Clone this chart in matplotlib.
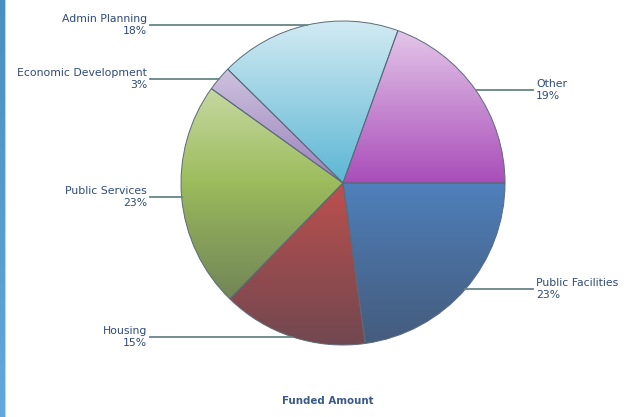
import matplotlib
matplotlib.use("Agg")
import matplotlib.pyplot as plt
from matplotlib.colors import to_rgb
from matplotlib.patches import Rectangle
import numpy as np

# slices, counter-clockwise from 3 o'clock
labels = ["Other", "Admin Planning", "Economic Development",
          "Public Services", "Housing", "Public Facilities"]
shares = [19.5, 18.1, 2.5, 22.6, 14.5, 22.8]
pct_labels = ["19%", "18%", "3%", "23%", "15%", "23%"]
colors = ["#a94db9", "#5cb6d4", "#9a82bc", "#9cbc5c", "#c0504d", "#4f81bd"]

W, H = 624, 417
cx, cy, r = 343, H - 183, 162
txt_color = "#2e4a7a"
line_color = "#668585"

fig = plt.figure(figsize=(W / 100, H / 100), dpi=100)
ax = fig.add_axes([0, 0, 1, 1])

wedges, _ = ax.pie(shares, colors=colors, startangle=0, counterclock=True,
                   center=(cx, cy), radius=r,
                   wedgeprops=dict(edgecolor="#5a6a7a", linewidth=0.7))

# vertical shading: light on top, dark at the bottom
t = np.linspace(0, 1, 300)[:, None]
for w, c in zip(wedges, colors):
    base = np.array(to_rgb(c))
    up = np.clip((0.5 - t) * 2, 0, 1) * 0.72
    down = np.clip((t - 0.5) * 2, 0, 1) ** 0.9 * 0.6
    img = base + (1 - base) * up
    img = img * (1 - down) + np.array([0.24, 0.26, 0.32]) * down
    img = np.repeat(img[:, None, :], 2, axis=1).reshape(300, 2, 3)
    im = ax.imshow(img, extent=(cx - r, cx + r, cy - r, cy + r),
                   origin="upper", aspect="auto", zorder=1.5,
                   interpolation="bilinear")
    im.set_clip_path(w)
    w.set_zorder(2)
    w.set_facecolor("none")

# leader lines and labels
acc = 0
total = sum(shares)
for lab, s, p in zip(labels, shares, pct_labels):
    mid = np.deg2rad((acc + s / 2) / total * 360)
    acc += s
    px = cx + r * np.cos(mid)
    py = cy + r * np.sin(mid)
    if np.cos(mid) >= 0:
        ax.plot([px, 533], [py, py], color=line_color, lw=1.3, zorder=3)
        ax.text(536, py, f"{lab}\n{p}", ha="left", va="center",
                fontsize=7.8, color=txt_color, linespacing=1.25)
    else:
        ax.plot([150, px], [py, py], color=line_color, lw=1.3, zorder=3)
        ax.text(147, py, f"{lab}\n{p}", ha="right", va="center",
                fontsize=7.8, color=txt_color, linespacing=1.25,
                multialignment="right")

ax.text(328, H - 401, "Funded Amount", ha="center", va="center",
        fontsize=7.4, fontweight="bold", color="#3a5a8a")

# blue bar on the left edge, darker at the top
bar = np.linspace(0, 1, 100)[:, None] * (np.array(to_rgb("#62a8dc")) - np.array(to_rgb("#4a8fbf"))) + np.array(to_rgb("#4a8fbf"))
bar = np.repeat(bar[:, None, :], 2, axis=1)
ax.imshow(bar, extent=(0, 4.5, 0, H), origin="upper", aspect="auto", zorder=4)
ax.add_patch(Rectangle((4.5, 0), 1.5, H, color="#b0daf4", lw=0, zorder=4))

ax.set_xlim(0, W)
ax.set_ylim(0, H)
ax.set_aspect("auto")
ax.axis("off")

fig.savefig("out.png", dpi=100)
